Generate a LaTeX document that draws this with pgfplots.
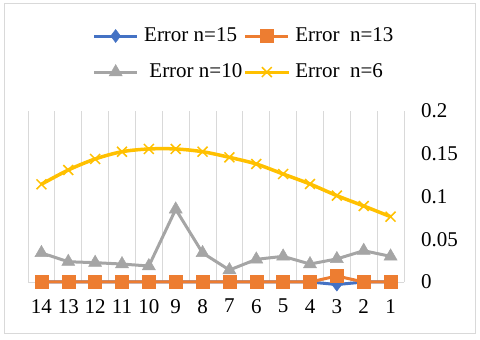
\documentclass[border=0pt]{standalone}
\usepackage{fontspec}
\setmainfont{Liberation Serif}
\usepackage{pgfplots}
\pgfplotsset{compat=1.18}
\definecolor{cblue}{HTML}{4472C4}
\definecolor{corange}{HTML}{ED7D31}
\definecolor{cgray}{HTML}{A5A5A5}
\definecolor{cyellow}{HTML}{FFC000}
\definecolor{gridgray}{HTML}{D9D9D9}
\begin{document}
\fontsize{21bp}{24bp}\selectfont
\begin{tikzpicture}
\path[use as bounding box] (0,0) rectangle (480bp,340bp);
\draw[gridgray, line width=0.75bp] (4bp,7bp) rectangle (475bp,337bp);
\begin{axis}[
    at={(28bp,58bp)}, anchor=south west,
    width=376bp, height=171bp, scale only axis,
    xmin=0.5, xmax=14.5, x dir=reverse,
    ymin=0, ymax=0.2,
    clip=false,
    axis line style={draw=none},
    xtick={1,2,3,4,5,6,7,8,9,10,11,12,13,14},
    xticklabels={1,2,3,4,5,6,7,8,9,10,11,12,13,14},
    minor xtick={0.5,1.5,2.5,3.5,4.5,5.5,6.5,7.5,8.5,9.5,10.5,11.5,12.5,13.5,14.5},
    xminorgrids,
    minor grid style={gridgray, line width=0.75bp},
    major grid style={gridgray, line width=0.75bp},
    ytick={0,0.05,0.1,0.15,0.2},
    yticklabels={0,0.05,0.1,0.15,0.2},
    extra y ticks={0}, extra y tick labels={},
    extra y tick style={ymajorgrids=true},
    yticklabel pos=right,
    major tick length=0, minor tick length=0,
    yticklabel style={anchor=west, xshift=10bp},
    xticklabel style={yshift=-10bp},
    every axis plot/.append style={line width=3bp},
    legend columns=2,
    legend cell align=left,
    legend style={draw=none, fill=none, at={(axis description cs:0.574,1.51)},
        anchor=north, font=\fontsize{21bp}{24bp}\selectfont,
        nodes={inner sep=1.5bp},
        /tikz/every odd column/.append style={column sep=4bp},
        row sep=16bp},
    legend image code/.code={
        \draw[#1, line width=3bp, mark repeat=2, mark phase=2]
            plot coordinates {(0bp,0bp) (21.5bp,0bp) (43bp,0bp)};},
]
\addplot[cblue, mark=diamond*, mark size=6.5bp, mark options={solid, fill=cblue, line width=0.5bp}]
  coordinates {(1,0) (2,0) (3,-0.003) (4,0) (5,0) (6,0) (7,0) (8,0) (9,0) (10,0) (11,0) (12,0) (13,0) (14,0)};
\addlegendentry{Error n=15}
\addplot[corange, mark=square*, mark size=6.5bp, mark options={solid, fill=corange, line width=0.5bp}]
  coordinates {(1,0) (2,0) (3,0.007) (4,0) (5,0) (6,0) (7,0) (8,0) (9,0) (10,0) (11,0) (12,0) (13,0) (14,0)};
\addlegendentry{Error\ \ n=13}
\addplot[cgray, mark=triangle*, mark size=7.5bp, mark options={solid, fill=cgray, line width=0.5bp}]
  coordinates {(1,0.030) (2,0.0366) (3,0.027) (4,0.021) (5,0.030) (6,0.0265) (7,0.014) (8,0.034) (9,0.085) (10,0.0187) (11,0.021) (12,0.0226) (13,0.0237) (14,0.034)};
\addlegendentry{\ Error n=10}
\addplot[cyellow, smooth, mark=x, mark size=7bp, line width=3.5bp, mark options={solid, line width=1.5bp}]
  coordinates {(1,0.0764) (2,0.0889) (3,0.101) (4,0.1146) (5,0.1263) (6,0.138) (7,0.1458) (8,0.1524) (9,0.1556) (10,0.1556) (11,0.1524) (12,0.1439) (13,0.131) (14,0.1143)};
\addlegendentry{Error\ \ n=6}
\end{axis}
\end{tikzpicture}
\end{document}
